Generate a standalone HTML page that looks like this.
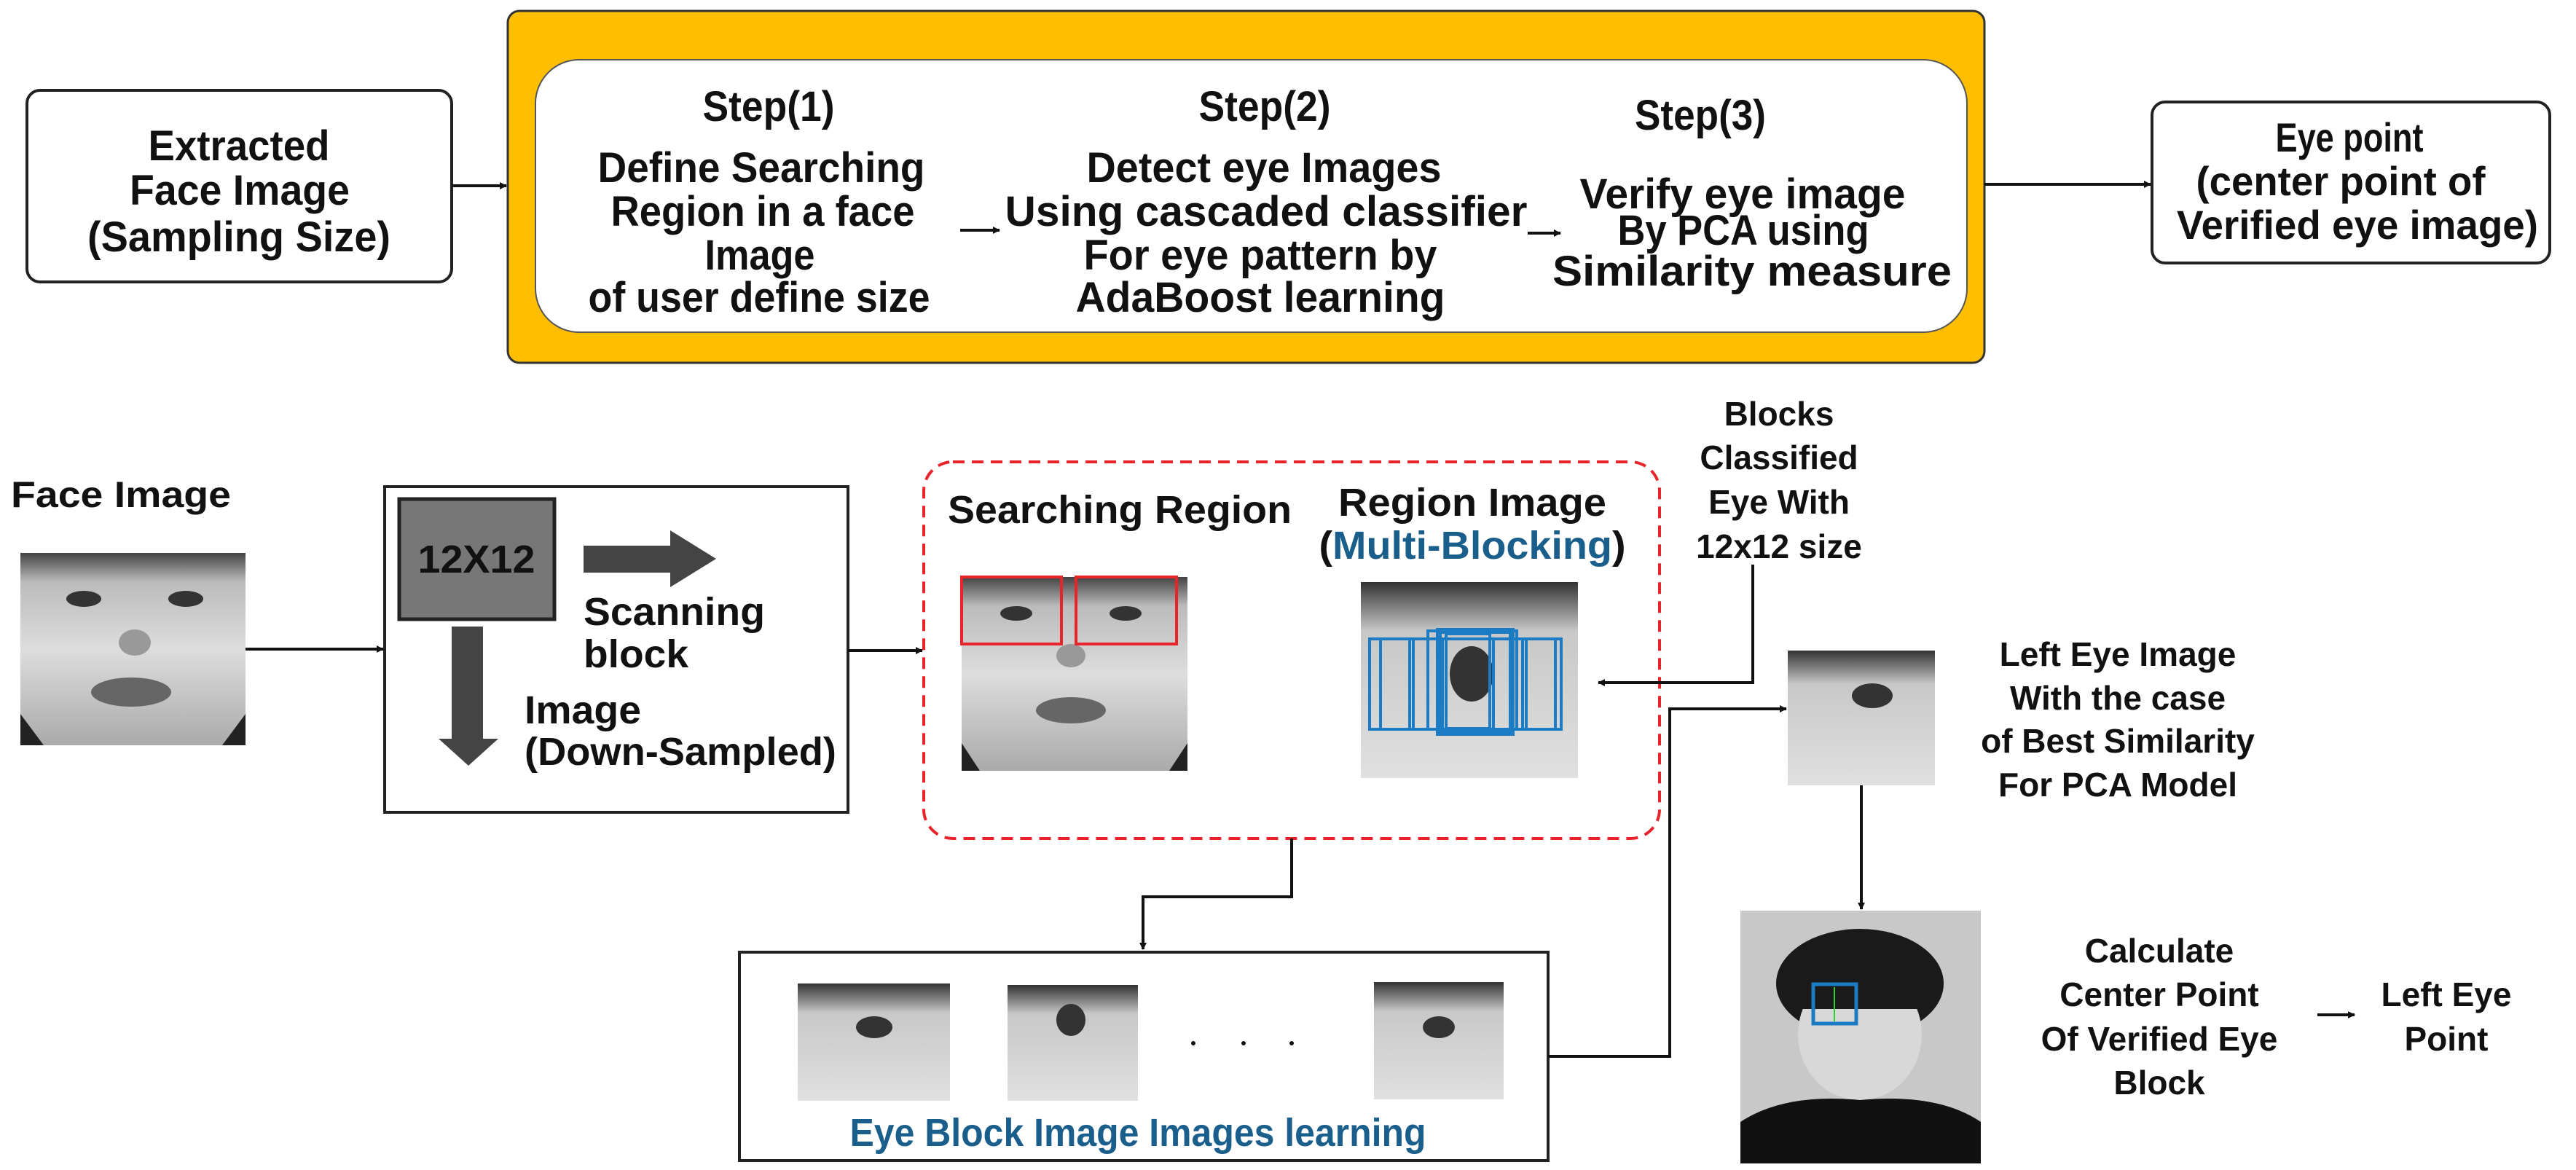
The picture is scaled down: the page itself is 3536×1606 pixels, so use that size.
<!DOCTYPE html>
<html><head><meta charset="utf-8"><style>
html,body{margin:0;padding:0;background:#fff}
svg{display:block}
.n{font-family:"Liberation Sans",sans-serif;font-weight:bold;fill:#111}
.w{font-family:"Liberation Sans",sans-serif;font-weight:bold;fill:#111}
</style></head><body>
<svg width="3536" height="1606" viewBox="0 0 3536 1606" xmlns="http://www.w3.org/2000/svg">
<defs>
<marker id="a" markerWidth="10" markerHeight="10" refX="9" refY="5" orient="auto" markerUnits="userSpaceOnUse"><path d="M0,0 L10,5 L0,10 z" fill="#111"/></marker>
<linearGradient id="g1" x1="0" y1="0" x2="0" y2="1"><stop offset="0" stop-color="#444"/><stop offset="0.15" stop-color="#bbb"/><stop offset="0.5" stop-color="#ddd"/><stop offset="1" stop-color="#aaa"/></linearGradient>
<linearGradient id="g2" x1="0" y1="0" x2="0" y2="1"><stop offset="0" stop-color="#333"/><stop offset="0.25" stop-color="#c8c8c8"/><stop offset="1" stop-color="#e0e0e0"/></linearGradient>
</defs>

<rect x="37" y="124" width="583" height="263" rx="18" fill="#fff" stroke="#222" stroke-width="4"/>
<text class="n" font-size="58" text-anchor="middle" x="328" y="220" textLength="249" lengthAdjust="spacingAndGlyphs">Extracted</text>
<text class="n" font-size="58" text-anchor="middle" x="329" y="281" textLength="302" lengthAdjust="spacingAndGlyphs">Face Image</text>
<text class="n" font-size="58" text-anchor="middle" x="328" y="345" textLength="416" lengthAdjust="spacingAndGlyphs">(Sampling Size)</text>
<line x1="620" y1="255" x2="695" y2="255" stroke="#111" stroke-width="4" marker-end="url(#a)"/>

<rect x="697" y="15" width="2027" height="483" rx="16" fill="#ffbe00" stroke="#333" stroke-width="3"/>
<rect x="735" y="82" width="1965" height="374" rx="60" fill="#fff" stroke="#555" stroke-width="2"/>

<g class="n" font-size="58" text-anchor="middle">
<text class="n" x="1055" y="166" textLength="181" lengthAdjust="spacingAndGlyphs">Step(1)</text>
<text class="n" x="1045" y="250" textLength="449" lengthAdjust="spacingAndGlyphs">Define Searching</text>
<text class="n" x="1047" y="310" textLength="417" lengthAdjust="spacingAndGlyphs">Region in a face</text>
<text class="n" x="1043" y="370" textLength="151" lengthAdjust="spacingAndGlyphs">Image</text>
<text class="n" x="1042" y="428" textLength="469" lengthAdjust="spacingAndGlyphs">of user define size</text>

<text class="n" x="1736" y="166" textLength="181" lengthAdjust="spacingAndGlyphs">Step(2)</text>
<text class="n" x="1735" y="250" textLength="487" lengthAdjust="spacingAndGlyphs">Detect eye Images</text>
<text class="n" x="1738" y="310" textLength="717" lengthAdjust="spacingAndGlyphs">Using cascaded classifier</text>
<text class="n" x="1730" y="370" textLength="485" lengthAdjust="spacingAndGlyphs">For eye pattern by</text>
<text class="n" x="1730" y="428" textLength="507" lengthAdjust="spacingAndGlyphs">AdaBoost learning</text>

<text class="n" x="2334" y="178" textLength="180" lengthAdjust="spacingAndGlyphs">Step(3)</text>
<text class="n" x="2392" y="286" textLength="447" lengthAdjust="spacingAndGlyphs">Verify eye image</text>
<text class="n" x="2393" y="336" textLength="345" lengthAdjust="spacingAndGlyphs">By PCA using</text>
<text class="n" x="2405" y="392" textLength="548" lengthAdjust="spacingAndGlyphs">Similarity measure</text>
</g>
<line x1="1318" y1="316" x2="1372" y2="316" stroke="#111" stroke-width="4" marker-end="url(#a)"/>
<line x1="2097" y1="320" x2="2142" y2="320" stroke="#111" stroke-width="4" marker-end="url(#a)"/>

<line x1="2724" y1="253" x2="2952" y2="253" stroke="#111" stroke-width="4" marker-end="url(#a)"/>
<rect x="2954" y="140" width="546" height="221" rx="18" fill="#fff" stroke="#222" stroke-width="4"/>
<text class="n" font-size="56" text-anchor="middle" x="3225" y="208" textLength="203" lengthAdjust="spacingAndGlyphs">Eye point</text>
<text class="n" font-size="56" text-anchor="middle" x="3213" y="268" textLength="397" lengthAdjust="spacingAndGlyphs">(center point of</text>
<text class="n" font-size="56" text-anchor="middle" x="3236" y="328" textLength="496" lengthAdjust="spacingAndGlyphs">Verified eye image)</text>

<text class="n" font-size="50" x="15" y="696" textLength="302" lengthAdjust="spacingAndGlyphs">Face Image</text>
<rect x="28" y="759" width="309" height="264" fill="url(#g1)"/>
<ellipse cx="115" cy="822" rx="24" ry="11" fill="#333"/><ellipse cx="255" cy="822" rx="24" ry="11" fill="#333"/>
<ellipse cx="185" cy="882" rx="22" ry="18" fill="#999"/>
<ellipse cx="180" cy="950" rx="55" ry="20" fill="#666"/>
<path d="M28,980 L60,1023 L28,1023 z M337,980 L305,1023 L337,1023 z" fill="#222"/>
<line x1="337" y1="891" x2="526" y2="891" stroke="#111" stroke-width="4" marker-end="url(#a)"/>

<rect x="528" y="668" width="636" height="447" fill="#fff" stroke="#222" stroke-width="4"/>
<rect x="548" y="685" width="213" height="165" fill="#777" stroke="#222" stroke-width="5"/>
<text class="n" font-size="54" text-anchor="middle" x="654" y="786" textLength="161" lengthAdjust="spacingAndGlyphs">12X12</text>
<polygon points="801,749 920,749 920,728 983,767 920,806 920,786 801,786" fill="#444"/>
<text class="n" font-size="54" x="801" y="858" textLength="249" lengthAdjust="spacingAndGlyphs">Scanning</text>
<text class="n" font-size="54" x="801" y="916" textLength="144" lengthAdjust="spacingAndGlyphs">block</text>
<polygon points="620,860 663,860 663,1014 684,1014 643,1051 602,1014 620,1014" fill="#444"/>
<text class="n" font-size="54" x="720" y="993" textLength="160" lengthAdjust="spacingAndGlyphs">Image</text>
<text class="n" font-size="54" x="720" y="1050" textLength="428" lengthAdjust="spacingAndGlyphs">(Down-Sampled)</text>
<line x1="1164" y1="893" x2="1266" y2="893" stroke="#111" stroke-width="4" marker-end="url(#a)"/>

<rect x="1268" y="634" width="1010" height="517" rx="40" fill="none" stroke="#e8242a" stroke-width="4" stroke-dasharray="16,10"/>
<text class="n" font-size="54" x="1301" y="718" textLength="472" lengthAdjust="spacingAndGlyphs">Searching Region</text>
<rect x="1320" y="792" width="310" height="266" fill="url(#g1)"/>
<ellipse cx="1395" cy="842" rx="22" ry="10" fill="#333"/><ellipse cx="1545" cy="842" rx="22" ry="10" fill="#333"/>
<ellipse cx="1470" cy="900" rx="20" ry="16" fill="#999"/>
<ellipse cx="1470" cy="975" rx="48" ry="18" fill="#666"/>
<path d="M1320,1020 L1345,1058 L1320,1058 z M1630,1020 L1605,1058 L1630,1058 z" fill="#222"/>
<rect x="1320" y="792" width="137" height="92" fill="none" stroke="#e8242a" stroke-width="4"/>
<rect x="1477" y="792" width="138" height="92" fill="none" stroke="#e8242a" stroke-width="4"/>
<text class="n" font-size="54" text-anchor="middle" x="2021" y="708" textLength="368" lengthAdjust="spacingAndGlyphs">Region Image</text>
<text class="n" font-size="54" text-anchor="middle" x="2021" y="767" textLength="421" lengthAdjust="spacingAndGlyphs">(<tspan fill="#1a5e8c">Multi-Blocking</tspan>)</text>
<rect x="1868" y="799" width="298" height="269" fill="url(#g2)"/>
<ellipse cx="2020" cy="925" rx="30" ry="38" fill="#333"/>
<g fill="none" stroke="#1b7cc4" stroke-width="4">
<rect x="1880" y="877" width="263" height="124"/><rect x="1895" y="877" width="40" height="124"/><rect x="1940" y="877" width="40" height="124"/>
<rect x="1960" y="866" width="122" height="135"/><rect x="1985" y="870" width="60" height="130"/><rect x="2050" y="877" width="40" height="124"/><rect x="2095" y="877" width="40" height="124"/>
<rect x="1975" y="866" width="100" height="140" stroke-width="8"/>
</g>

<text class="w" font-size="46" text-anchor="middle" x="2442" y="584">Blocks</text>
<text class="w" font-size="46" text-anchor="middle" x="2442" y="644">Classified</text>
<text class="w" font-size="46" text-anchor="middle" x="2442" y="705">Eye With</text>
<text class="w" font-size="46" text-anchor="middle" x="2442" y="766">12x12 size</text>
<polyline points="2406,775 2406,937 2194,937" fill="none" stroke="#111" stroke-width="4" marker-end="url(#a)"/>

<polyline points="1773,1151 1773,1231 1569,1231 1569,1303" fill="none" stroke="#111" stroke-width="4" marker-end="url(#a)"/>
<rect x="1015" y="1307" width="1110" height="286" fill="#fff" stroke="#222" stroke-width="4"/>
<rect x="1095" y="1350" width="209" height="161" fill="url(#g2)"/><ellipse cx="1200" cy="1410" rx="25" ry="15" fill="#333"/>
<rect x="1383" y="1352" width="179" height="159" fill="url(#g2)"/><ellipse cx="1470" cy="1400" rx="20" ry="22" fill="#333"/>
<rect x="1886" y="1348" width="178" height="161" fill="url(#g2)"/><ellipse cx="1975" cy="1410" rx="22" ry="15" fill="#333"/>
<circle cx="1638" cy="1432" r="3" fill="#111"/><circle cx="1707" cy="1432" r="3" fill="#111"/><circle cx="1773" cy="1432" r="3" fill="#111"/>
<text class="n" font-size="54" text-anchor="middle" x="1562" y="1573" style="fill:#1a5e8c" textLength="791" lengthAdjust="spacingAndGlyphs">Eye Block Image Images learning</text>
<polyline points="2125,1450 2292,1450 2292,973 2452,973" fill="none" stroke="#111" stroke-width="4" marker-end="url(#a)"/>

<rect x="2454" y="893" width="202" height="185" fill="url(#g2)"/><ellipse cx="2570" cy="955" rx="28" ry="17" fill="#333"/>
<text class="w" font-size="46" text-anchor="middle" x="2907" y="914">Left Eye Image</text>
<text class="w" font-size="46" text-anchor="middle" x="2907" y="974">With the case</text>
<text class="w" font-size="46" text-anchor="middle" x="2907" y="1033">of Best Similarity</text>
<text class="w" font-size="46" text-anchor="middle" x="2907" y="1093">For PCA Model</text>
<line x1="2555" y1="1078" x2="2555" y2="1248" stroke="#111" stroke-width="4" marker-end="url(#a)"/>

<rect x="2389" y="1250" width="330" height="347" fill="#c8c8c8"/>
<ellipse cx="2553" cy="1350" rx="115" ry="75" fill="#1a1a1a"/>
<ellipse cx="2553" cy="1420" rx="85" ry="90" fill="#d8d8d8"/>
<rect x="2470" y="1330" width="170" height="55" fill="#1a1a1a"/>
<path d="M2389,1540 Q2450,1500 2553,1510 Q2660,1500 2719,1540 L2719,1597 L2389,1597 z" fill="#111"/>
<rect x="2489" y="1351" width="59" height="54" fill="none" stroke="#1b7cc4" stroke-width="5"/>
<line x1="2518" y1="1355" x2="2518" y2="1402" stroke="#3c3" stroke-width="2"/>
<text class="w" font-size="46" text-anchor="middle" x="2964" y="1321">Calculate</text>
<text class="w" font-size="46" text-anchor="middle" x="2964" y="1381">Center Point</text>
<text class="w" font-size="46" text-anchor="middle" x="2964" y="1442">Of Verified Eye</text>
<text class="w" font-size="46" text-anchor="middle" x="2964" y="1502">Block</text>
<line x1="3181" y1="1393" x2="3232" y2="1393" stroke="#111" stroke-width="4" marker-end="url(#a)"/>
<text class="w" font-size="46" text-anchor="middle" x="3358" y="1381">Left Eye</text>
<text class="w" font-size="46" text-anchor="middle" x="3358" y="1442">Point</text>
</svg>
</body></html>
